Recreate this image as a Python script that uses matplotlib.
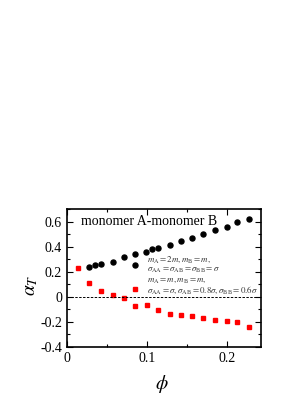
import numpy as np
import matplotlib.pyplot as plt
from matplotlib.ticker import MultipleLocator, FuncFormatter

plt.rcParams['font.family'] = ['Liberation Serif', 'DejaVu Serif']
plt.rcParams['mathtext.fontset'] = 'stix'

# --- data ---
phi_A = [0.028, 0.035, 0.0425, 0.057, 0.071, 0.085, 0.085, 0.099, 0.106, 0.113,
         0.128, 0.142, 0.156, 0.170, 0.184, 0.199, 0.2125, 0.227]
alpha_A = [0.241, 0.254, 0.260, 0.281, 0.315, 0.339, 0.252, 0.358, 0.379, 0.389,
           0.410, 0.448, 0.466, 0.503, 0.532, 0.556, 0.596, 0.620]

phi_B = [0.014, 0.028, 0.0425, 0.057, 0.071, 0.085, 0.085, 0.0996, 0.113, 0.128,
         0.142, 0.156, 0.170, 0.184, 0.199, 0.2125, 0.227]
alpha_B = [0.230, 0.109, 0.050, 0.016, -0.011, 0.066, -0.077, -0.066, -0.103, -0.138,
           -0.146, -0.151, -0.170, -0.183, -0.196, -0.204, -0.238]

fig = plt.figure(figsize=(2.91, 4.11), dpi=100)
ax = fig.add_axes([0.230, 0.156, 0.667, 0.335])

ax.plot(phi_A, alpha_A, 'o', color='black', ms=3.6, mec='black')
ax.plot(phi_B, alpha_B, 's', color='red', ms=3.4, mec='red')
ax.axhline(0, color='black', ls=(0, (2.5, 1.5)), lw=0.7)

ax.set_xlim(0, 0.242)
ax.set_ylim(-0.4, 0.7)
ax.xaxis.set_major_locator(MultipleLocator(0.1))
ax.xaxis.set_minor_locator(MultipleLocator(0.05))
ax.yaxis.set_major_locator(MultipleLocator(0.2))
ax.yaxis.set_minor_locator(MultipleLocator(0.1))
fmt = FuncFormatter(lambda v, p: '0' if abs(v) < 1e-9 else f'{v:.1f}')
ax.xaxis.set_major_formatter(fmt)
ax.yaxis.set_major_formatter(fmt)
ax.tick_params(which='both', direction='in', top=True, right=True, labelsize=10, width=0.8)
ax.tick_params(which='major', length=4)
ax.tick_params(which='minor', length=2)
for s in ax.spines.values():
    s.set_linewidth(1.2)

ax.set_xlabel(r'$\phi$', fontsize=14)
ax.set_ylabel(r'$\alpha_T$', fontsize=14)
ax.xaxis.set_label_coords(0.49, -0.19)
ax.yaxis.set_label_coords(-0.14, 0.45)

ax.text(0.017, 0.6, 'monomer A-monomer B', fontsize=10, va='center', ha='left')
ann = dict(fontsize=6.4, va='center', ha='left', color='#333333')
ax.text(0.1, 0.256,
        r'$m_{\rm A}=2m, m_{\rm B}=m,$' + '\n' +
        r'$\sigma_{\rm AA}=\sigma_{\rm AB}=\sigma_{\rm BB}=\sigma$',
        linespacing=1.15, **ann)
ax.text(0.1, 0.086,
        r'$m_{\rm A}=m, m_{\rm B}=m,$' + '\n' +
        r'$\sigma_{\rm AA}=\sigma, \sigma_{\rm AB}=0.8\sigma, \sigma_{\rm BB}=0.6\sigma$',
        linespacing=0.9, **ann)

fig.savefig('out.png', dpi=100)
